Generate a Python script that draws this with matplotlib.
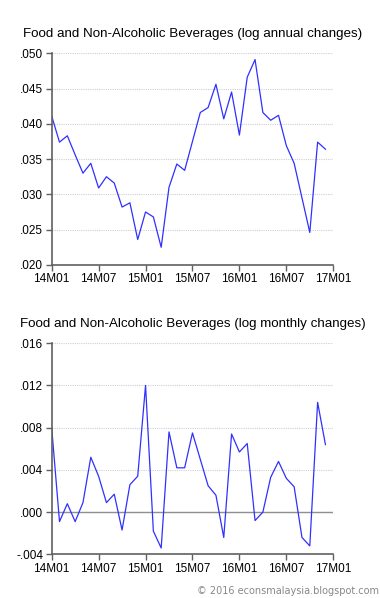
import matplotlib
matplotlib.use("Agg")
import matplotlib.pyplot as plt
from matplotlib.ticker import FuncFormatter

plt.rcParams['font.family'] = ['Liberation Sans', 'DejaVu Sans']

# monthly observations, 14M01 .. 16M12
months = [f"{y}M{m:02d}" for y in (14, 15, 16) for m in range(1, 13)]

annual = [0.0411, 0.0374, 0.0383, 0.0356, 0.0330, 0.0344, 0.0309, 0.0325,
          0.0316, 0.0282, 0.0288, 0.0236, 0.0275, 0.0268, 0.0225, 0.0310,
          0.0343, 0.0334, 0.0375, 0.0416, 0.0423, 0.0456, 0.0407, 0.0445,
          0.0384, 0.0466, 0.0491, 0.0416, 0.0405, 0.0412, 0.0369, 0.0344,
          0.0295, 0.0246, 0.0374, 0.0364]

monthly = [0.0080, -0.0009, 0.0008, -0.0009, 0.0009, 0.0052, 0.0034, 0.0009,
           0.0017, -0.0017, 0.0026, 0.0034, 0.0120, -0.0018, -0.0034, 0.0076,
           0.0042, 0.0042, 0.0075, 0.0050, 0.0025, 0.0016, -0.0024, 0.0074,
           0.0057, 0.0065, -0.0008, 0.0000, 0.0033, 0.0048, 0.0032, 0.0024,
           -0.0024, -0.0032, 0.0104, 0.0064]

tick_pos = [0, 6, 12, 18, 24, 30, 36]
tick_labels = ["14M01", "14M07", "15M01", "15M07", "16M01", "16M07", "17M01"]


def fmt(v, pos):
    return f"{v:.3f}".replace("0.", ".", 1)


def style(ax, yticks, title):
    ax.set_xlim(0, 36)
    ax.set_ylim(yticks[0], yticks[-1])
    ax.set_yticks(yticks)
    ax.yaxis.set_major_formatter(FuncFormatter(fmt))
    ax.set_xticks(tick_pos)
    ax.set_xticklabels(tick_labels)
    for s in ('top', 'right'):
        ax.spines[s].set_visible(False)
    for s in ('left', 'bottom'):
        ax.spines[s].set_color('#606060')
        ax.spines[s].set_linewidth(1.2)
    ax.tick_params(direction='out', length=4, width=1, color='#606060',
                   labelsize=8.5, pad=2)
    ax.grid(axis='y', color='#d0d0d0', linestyle=(0, (1, 1)), linewidth=0.8)
    ax.set_axisbelow(True)
    ax.set_title(title, fontsize=9.6, pad=12)


fig = plt.figure(figsize=(3.8, 5.98), dpi=100)

ax1 = fig.add_axes([0.136, 0.557, 0.741, 0.354])
ax1.plot(range(len(annual)), annual, color='#3030ff', linewidth=0.9)
style(ax1, [0.020, 0.025, 0.030, 0.035, 0.040, 0.045, 0.050],
      "Food and Non-Alcoholic Beverages (log annual changes)")

ax2 = fig.add_axes([0.136, 0.073, 0.741, 0.353])
ax2.axhline(0, color='#909090', linewidth=1.0)
ax2.plot(range(len(monthly)), monthly, color='#3030ff', linewidth=0.9)
style(ax2, [-0.004, 0.000, 0.004, 0.008, 0.012, 0.016],
      "Food and Non-Alcoholic Beverages (log monthly changes)")

fig.text(0.997, 0.004, "\u00a9 2016 econsmalaysia.blogspot.com", ha='right',
         va='bottom', fontsize=7, color='#888888', family='DejaVu Sans')

fig.savefig("out.png", dpi=100)
